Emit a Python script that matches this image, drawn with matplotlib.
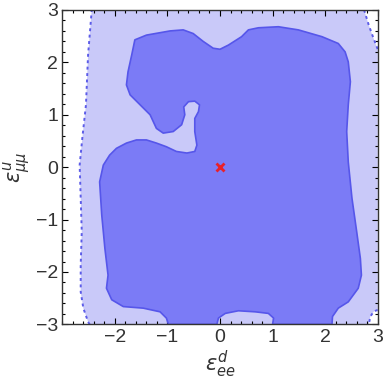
import matplotlib
matplotlib.use("Agg")
import matplotlib.pyplot as plt
from matplotlib.ticker import MultipleLocator
import numpy as np

plt.rcParams["font.family"] = ["Liberation Sans", "DejaVu Sans"]

# boundary of the inner (dark) allowed region, data coords
dark_x = [-1.62, -1.40, -0.95, -0.70, -0.51, -0.32, -0.13, 0.00, 0.16, 0.41, 0.54, 0.73,
          1.11, 1.49, 1.94, 2.25, 2.38, 2.44, 2.48, 2.44, 2.41, 2.44, 2.51, 2.60, 2.67,
          2.69, 2.63, 2.44, 2.25, 2.14, 2.13,
          1.00, 1.02, 0.92, 0.67, 0.35, 0.10, -0.03, -0.06,
          -0.98, -1.02, -1.14, -1.46, -1.84, -2.06, -2.16, -2.13, -2.19, -2.25, -2.29,
          -2.22, -2.10, -1.97, -1.78, -1.59, -1.40, -1.21, -1.02, -0.83, -0.63, -0.48,
          -0.44, -0.48, -0.48, -0.41, -0.39, -0.48, -0.60, -0.69, -0.67, -0.73, -0.89,
          -1.08, -1.21, -1.33, -1.52, -1.71, -1.78, -1.75, -1.68]
dark_y = [2.43, 2.52, 2.60, 2.62, 2.55, 2.40, 2.27, 2.25, 2.33, 2.49, 2.62, 2.66,
          2.68, 2.62, 2.49, 2.36, 2.20, 2.01, 1.63, 1.19, 0.68, 0.10, -0.59, -1.23, -1.74,
          -2.06, -2.31, -2.57, -2.69, -2.85, -3.00,
          -3.00, -2.88, -2.79, -2.76, -2.74, -2.79, -2.88, -3.00,
          -3.00, -2.88, -2.76, -2.69, -2.66, -2.53, -2.31, -2.06, -1.55, -0.91, -0.28,
          0.04, 0.23, 0.36, 0.46, 0.52, 0.52, 0.46, 0.39, 0.30, 0.27, 0.30,
          0.42, 0.68, 0.93, 1.06, 1.19, 1.26, 1.25, 1.15, 1.00, 0.81, 0.68,
          0.65, 0.74, 1.00, 1.19, 1.38, 1.57, 1.82, 2.14]

# outer (light) region: dashed left edge and the two right corner cut-outs
left_x = [-2.48, -2.51, -2.60, -2.65, -2.65, -2.63, -2.65, -2.67, -2.62, -2.55, -2.51, -2.44]
left_y = [-3.00, -2.95, -2.69, -2.38, -1.87, -1.23, -0.59, 0.04, 0.55, 1.19, 2.14, 3.00]
tr_x = [2.74, 2.76, 2.83, 2.92, 3.00]
tr_y = [3.00, 2.94, 2.71, 2.46, 2.25]
br_x = [3.00, 2.98, 2.92, 2.86, 2.83]
br_y = [-2.73, -2.73, -2.76, -2.85, -3.00]

light_x = left_x + tr_x + br_x
light_y = left_y + tr_y + br_y

fig = plt.figure(figsize=(3.87, 3.83), dpi=100)
ax = fig.add_axes([0.161, 0.153, 0.815, 0.821])

ax.fill(light_x, light_y, color="#c9c9f9", lw=0, zorder=1)
ax.fill(dark_x, dark_y, facecolor="#7b7bf6", edgecolor="#5656ea", lw=1.2,
        joinstyle="round", zorder=2)
for xs, ys in [(left_x, left_y), (tr_x, tr_y), (br_x, br_y)]:
    ax.plot(xs, ys, color="#5c5ce8", lw=1.4, dashes=(1.5, 1.8), zorder=3)

ax.plot([0], [0], marker="x", color="#e8202a", ms=6, mew=2, zorder=4)

ax.set_xlim(-3, 3)
ax.set_ylim(-3, 3)
ax.set_xticks([-2, -1, 0, 1, 2, 3])
ax.set_yticks([-3, -2, -1, 0, 1, 2, 3])
ax.xaxis.set_minor_locator(MultipleLocator(0.2))
ax.yaxis.set_minor_locator(MultipleLocator(0.2))
ax.tick_params(which="both", direction="in", top=True, right=True,
               labelsize=14, labelcolor="#333333", width=0.8, pad=3)
ax.tick_params(which="major", length=4)
ax.tick_params(which="minor", length=2)
for s in ax.spines.values():
    s.set_linewidth(1.0)
    s.set_color("#333333")
    s.set_zorder(5)

ax.set_xlabel(r"$\epsilon^{d}_{ee}$", fontsize=15, color="#333333", labelpad=2)
ax.set_ylabel(r"$\epsilon^{u}_{\mu\mu}$", fontsize=15, color="#333333", labelpad=2)

fig.savefig("out.png", dpi=100)
